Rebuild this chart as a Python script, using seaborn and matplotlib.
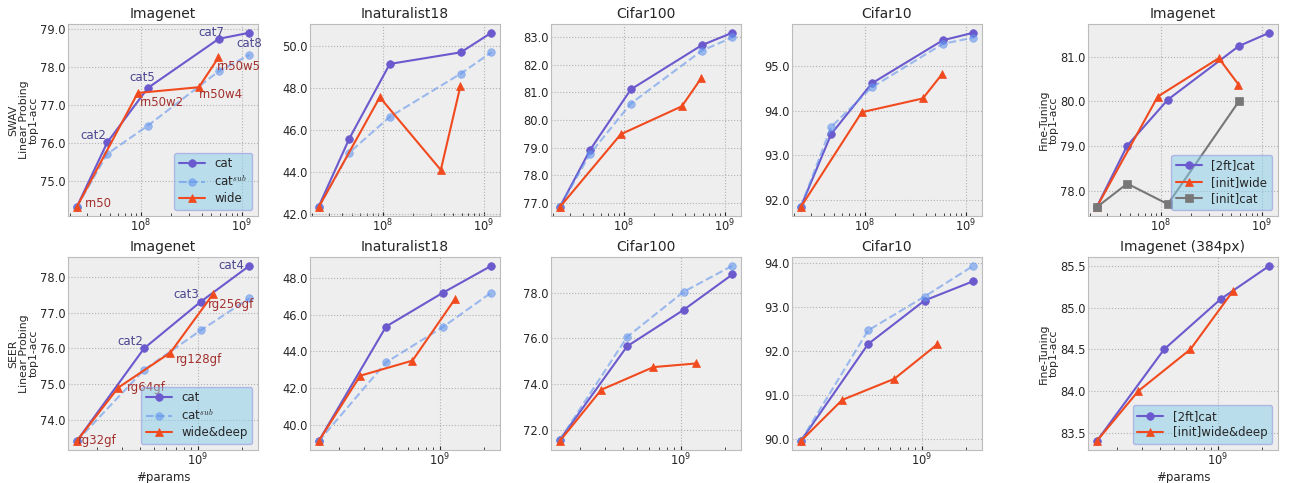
import matplotlib
matplotlib.use("Agg")
import matplotlib.pyplot as plt
from matplotlib.ticker import MultipleLocator, FormatStrFormatter
import seaborn as sns

# ---- data ----
# SWAV (top row): params of concatenated / wide models
swav_cat_params = [23.5e6, 47e6, 118e6, 590e6, 1180e6]
swav_wide_params = [23.5e6, 94e6, 375e6, 586e6]
swav_cat_names = ["", "cat2", "cat5", "cat7", "cat8"]
swav_wide_names = ["rn50", "rn50w2", "rn50w4", "rn50w5"]

swav_imnet_cat = [74.32, 76.02, 77.45, 78.74, 78.90]
swav_imnet_catsub = [74.32, 75.72, 76.46, 77.89, 78.32]
swav_imnet_wide = [74.32, 77.32, 77.47, 78.25]

swav_inat_cat = [42.36, 45.58, 49.13, 49.68, 50.61]
swav_inat_catsub = [42.33, 44.92, 46.62, 48.67, 49.68]
swav_inat_wide = [42.33, 47.55, 44.10, 48.10]

swav_c100_cat = [76.85, 78.93, 81.11, 82.71, 83.16]
swav_c100_catsub = [76.85, 78.79, 80.60, 82.51, 82.99]
swav_c100_wide = [76.85, 79.49, 80.50, 81.53]

swav_c10_cat = [91.83, 93.48, 94.62, 95.59, 95.76]
swav_c10_catsub = [91.83, 93.64, 94.53, 95.51, 95.65]
swav_c10_wide = [91.83, 93.97, 94.28, 94.84]

swav_ft_2ftcat = [77.63, 79.01, 80.04, 81.24, 81.54]
swav_ft_initwide = [77.63, 80.11, 80.97, 80.38]
swav_ft_initcat = [77.63, 78.16, 77.70, 80.00]

# SEER (bottom row)
seer_cat_params = [145e6, 424e6, 1.04e9, 2.26e9]
seer_wide_params = [145e6, 281e6, 644e6, 1.27e9]
seer_cat_names = ["", "cat2", "cat3", "cat4"]
seer_wide_names = ["rg32gf", "rg64gf", "rg128gf", "rg256gf"]

seer_imnet_cat = [73.40, 76.00, 77.30, 78.31]
seer_imnet_catsub = [73.40, 75.40, 76.50, 77.40]
seer_imnet_wide = [73.40, 74.90, 75.88, 77.52]

seer_inat_cat = [39.10, 45.35, 47.18, 48.66]
seer_inat_catsub = [39.10, 43.40, 45.31, 47.20]
seer_inat_wide = [39.10, 42.67, 43.49, 46.86]

seer_c100_cat = [71.55, 75.65, 77.24, 78.79]
seer_c100_catsub = [71.55, 76.06, 78.03, 79.17]
seer_c100_wide = [71.50, 73.75, 74.74, 74.90]

seer_c10_cat = [89.95, 92.16, 93.15, 93.59]
seer_c10_catsub = [89.95, 92.47, 93.24, 93.94]
seer_c10_wide = [89.95, 90.89, 91.37, 92.15]

seer_ft_2ftcat = [83.40, 84.50, 85.10, 85.50]
seer_ft_initwide = [83.40, 84.00, 84.50, 85.20]

# ---- style ----
C_CAT = "#6A5ACD"
C_SUB = "#6495ED"
C_WIDE = "#F04A1E"
C_GRAY = "#777777"
C_CAT_TXT = "#4B4690"
C_WIDE_TXT = "#A3302C"

sns.set_style("whitegrid", {
    "axes.facecolor": "#eeeeee",
    "axes.edgecolor": "#bcbcbc",
    "grid.color": "#b2b2b2",
    "grid.linestyle": ":",
    "xtick.direction": "in",
    "ytick.direction": "in",
})
plt.rcParams["font.family"] = ["DejaVu Sans"]
plt.rcParams["mathtext.fontset"] = "cm"
plt.rcParams["font.size"] = 8.5

fig = plt.figure(figsize=(12.92, 4.83), dpi=100)

lefts = [68, 310, 551, 792, 1088]
W, H = 1292.0, 483.0
row_boxes = [(24, 216), (257, 450)]


def make_ax(r, c):
    top, bot = row_boxes[r]
    return fig.add_axes([lefts[c] / W, 1 - bot / H, 190 / W, (bot - top) / H])


def line(ax, x, y, color, marker, label, ls="-", alpha=1.0, ms=5.5):
    sns.lineplot(x=x, y=y, ax=ax, color=color, marker=marker, label=label,
                 linestyle=ls, alpha=alpha, markersize=ms,
                 markeredgecolor=color, markeredgewidth=0.5, linewidth=1.5,
                 sort=False)


def finish(ax, title, step):
    ax.set_xscale("log")
    ax.set_title(title, fontsize=10, pad=4)
    ax.yaxis.set_major_locator(MultipleLocator(step))
    ax.yaxis.set_major_formatter(FormatStrFormatter("%.1f"))
    ax.tick_params(axis="both", which="both", labelsize=8.3, length=3, pad=1.5)
    ax.tick_params(axis="x", which="minor", length=2, bottom=True)
    ax.tick_params(axis="x", which="major", bottom=True)
    ax.grid(True, which="major", color="#b2b2b2", linestyle=":", linewidth=0.8)
    for s in ax.spines.values():
        s.set_color("#bcbcbc")


def legend(ax):
    ax.legend(loc="lower right", fontsize=8.5, facecolor="#87CEEB",
              edgecolor="#8888DD", framealpha=0.5, handlelength=2.2,
              borderpad=0.4, labelspacing=0.3)


def ylab(ax, text):
    ax.set_ylabel(text, fontsize=7.8, labelpad=1, linespacing=1.05)


probe_sets = [
    (swav_cat_params, swav_wide_params, [
        ("Imagenet", swav_imnet_cat, swav_imnet_catsub, swav_imnet_wide, 1.0),
        ("Inaturalist18", swav_inat_cat, swav_inat_catsub, swav_inat_wide, 2.0),
        ("Cifar100", swav_c100_cat, swav_c100_catsub, swav_c100_wide, 1.0),
        ("Cifar10", swav_c10_cat, swav_c10_catsub, swav_c10_wide, 1.0),
    ], "wide"),
    (seer_cat_params, seer_wide_params, [
        ("Imagenet", seer_imnet_cat, seer_imnet_catsub, seer_imnet_wide, 1.0),
        ("Inaturalist18", seer_inat_cat, seer_inat_catsub, seer_inat_wide, 2.0),
        ("Cifar100", seer_c100_cat, seer_c100_catsub, seer_c100_wide, 2.0),
        ("Cifar10", seer_c10_cat, seer_c10_catsub, seer_c10_wide, 1.0),
    ], "wide&deep"),
]

# text label offsets (pixels) for the first column
cat_offsets = [
    [None, (-14, 7), (-6, 10), (-7, 6), (0, -11)],
    [None, (-14, 7), (-14, 7), (-18, 0)],
]
wide_offsets = [
    [(22, 4), (24, -10), (22, -7), (20, -9)],
    [(21, 1), (28, 0), (29, -7), (18, -10)],
]
cat_names = [swav_cat_names, seer_cat_names]
wide_names = [swav_wide_names, seer_wide_names]

for r, (cx, wx, panels, wide_label) in enumerate(probe_sets):
    for c, (title, ycat, ysub, ywide, step) in enumerate(panels):
        ax = make_ax(r, c)
        line(ax, cx, ycat, C_CAT, "o", "cat")
        line(ax, cx, ysub, C_SUB, "o", "cat$^{sub}$", ls="--", alpha=0.6)
        line(ax, wx, ywide, C_WIDE, "^", wide_label)
        finish(ax, title, step)
        if c == 0:
            for name, x, y, off in zip(cat_names[r], cx, ycat, cat_offsets[r]):
                if name:
                    ax.annotate(name, (x, y), xytext=off, textcoords="offset pixels",
                                ha="center", va="center", color=C_CAT_TXT, fontsize=8.5)
            for name, x, y, off in zip(wide_names[r], wx, ywide, wide_offsets[r]):
                ax.annotate(name, (x, y), xytext=off, textcoords="offset pixels",
                            ha="center", va="center", color=C_WIDE_TXT, fontsize=8.5)
            legend(ax)
            ylab(ax, ("SWAV" if r == 0 else "SEER") + "\nLinear Probing\ntop1-acc")
            if r == 1:
                ax.set_xlabel("#params", fontsize=8.5, labelpad=2)
        else:
            ax.get_legend().remove()

# fine-tuning column
ax = make_ax(0, 4)
line(ax, swav_cat_params, swav_ft_2ftcat, C_CAT, "o", "[2ft]cat")
line(ax, swav_wide_params, swav_ft_initwide, C_WIDE, "^", "[init]wide")
line(ax, swav_cat_params[:4], swav_ft_initcat, C_GRAY, "s", "[init]cat")
finish(ax, "Imagenet", 1.0)
legend(ax)
ylab(ax, "Fine-Tuning\ntop1-acc")

ax = make_ax(1, 4)
line(ax, seer_cat_params, seer_ft_2ftcat, C_CAT, "o", "[2ft]cat")
line(ax, seer_wide_params, seer_ft_initwide, C_WIDE, "^", "[init]wide&deep")
finish(ax, "Imagenet (384px)", 0.5)
legend(ax)
ylab(ax, "Fine-Tuning\ntop1-acc")
ax.set_xlabel("#params", fontsize=8.5, labelpad=2)

fig.savefig("out.png", dpi=100)
